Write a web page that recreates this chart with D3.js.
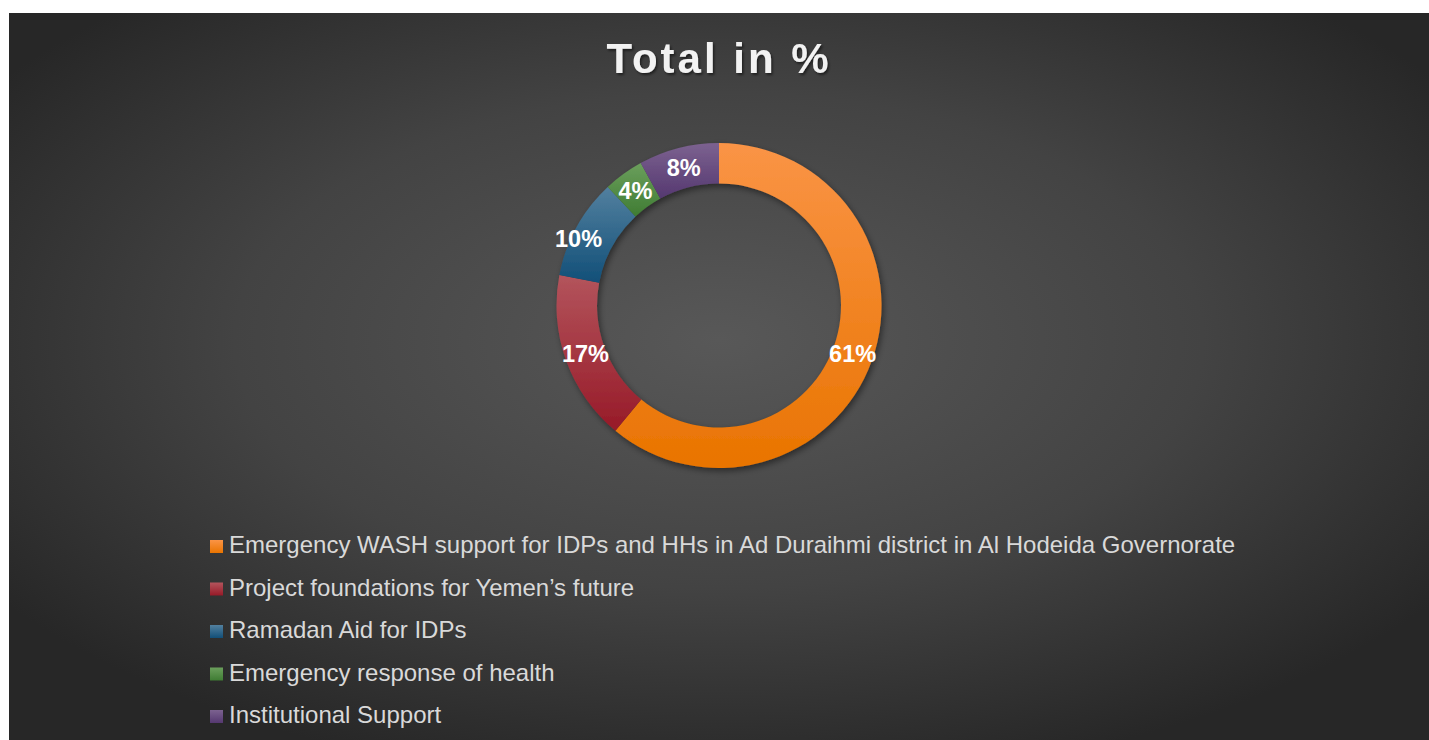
<!DOCTYPE html>
<html><head><meta charset="utf-8">
<script src="https://cdn.jsdelivr.net/npm/d3@7/dist/d3.min.js"></script>
<style>
html,body{margin:0;padding:0;background:#fff;}
svg{display:block;}
</style></head>
<body>
<svg id="chart" width="1429" height="740"></svg>
<script>
const title = "Total in %";
const categories = [
  "Emergency WASH support for IDPs and HHs in Ad Duraihmi district in Al Hodeida Governorate",
  "Project foundations for Yemen\u2019s future",
  "Ramadan Aid for IDPs",
  "Emergency response of health",
  "Institutional Support"
];
const values = [61, 17, 10, 4, 8];
const colorsTop = ["#fa9446", "#b3545c", "#52809f", "#6b9f5c", "#7c6290"];
const colorsBottom = ["#e97400", "#971a28", "#124f78", "#3f7c33", "#553870"];

const W = 1429, H = 740;
const svg = d3.select("#chart");
const defs = svg.append("defs");

const bg = defs.append("radialGradient").attr("id","bg")
  .attr("cx","0.5").attr("cy","0.45").attr("r","0.62").attr("fx","0.5").attr("fy","0.45");
bg.append("stop").attr("offset","0").attr("stop-color","#585858");
bg.append("stop").attr("offset","0.55").attr("stop-color","#434343");
bg.append("stop").attr("offset","1").attr("stop-color","#272727");

colorsTop.forEach((c,i)=>{
  const g = defs.append("linearGradient").attr("id","seg"+i).attr("x1",0).attr("y1",0).attr("x2",0).attr("y2",1);
  g.append("stop").attr("offset",0).attr("stop-color",c);
  g.append("stop").attr("offset",1).attr("stop-color",colorsBottom[i]);
});

const sh = defs.append("filter").attr("id","shadow").attr("x","-20%").attr("y","-20%").attr("width","140%").attr("height","140%");
sh.append("feDropShadow").attr("dx",2).attr("dy",3).attr("stdDeviation",3).attr("flood-color","#000").attr("flood-opacity",0.45);
const tsh = defs.append("filter").attr("id","tshadow").attr("x","-10%").attr("y","-20%").attr("width","120%").attr("height","150%");
tsh.append("feDropShadow").attr("dx",1.5).attr("dy",2).attr("stdDeviation",1.2).attr("flood-color","#000").attr("flood-opacity",0.5);

svg.append("rect").attr("x",9).attr("y",13).attr("width",W-9).attr("height",H-13).attr("fill","url(#bg)");

svg.append("text").attr("x",719).attr("y",73).attr("text-anchor","middle")
  .attr("font-family","'Liberation Sans', Arial, sans-serif").attr("font-weight","bold")
  .attr("font-size",42).attr("letter-spacing","3px").attr("fill","#f2f2f2")
  .attr("filter","url(#tshadow)").text(title);

const cx = 719, cy = 305.5, rOuter = 162.5, rInner = 122;
const pie = d3.pie().sort(null).value(d=>d);
const arcs = pie(values);
const arc = d3.arc().innerRadius(rInner).outerRadius(rOuter);
const labelArc = d3.arc().innerRadius(142).outerRadius(142);
// label placement nudge (best-fit style) for the small blue slice
const labelNudge = {2: [-16, 1]};

const g = svg.append("g").attr("transform",`translate(${cx},${cy})`);
g.append("g").attr("filter","url(#shadow)").selectAll("path").data(arcs).join("path")
  .attr("d",arc).attr("fill",(d,i)=>`url(#seg${i})`);

g.selectAll("text.lbl").data(arcs).join("text").attr("class","lbl")
  .attr("transform",(d,i)=>{
    const c = labelArc.centroid(d);
    const n = labelNudge[i] || [0,0];
    return `translate(${c[0]+n[0]},${c[1]+n[1]})`;
  })
  .attr("text-anchor","middle").attr("dy","0.36em")
  .attr("font-family","'Liberation Sans', Arial, sans-serif").attr("font-weight","bold")
  .attr("font-size",23.5).attr("fill","#ffffff")
  .text(d=>d.data+"%");

const leg = svg.append("g");
const rowY = d3.scaleLinear().domain([0,4]).range([553,723]);
categories.forEach((c,i)=>{
  leg.append("rect").attr("x",210).attr("y",rowY(i)-13).attr("width",13).attr("height",13)
    .attr("fill",`url(#seg${i})`);
  leg.append("text").attr("x",229).attr("y",rowY(i))
    .attr("font-family","'Liberation Sans', Arial, sans-serif").attr("font-size",24)
    .attr("fill","#d9d9d9").text(c);
});
</script>
</body></html>
